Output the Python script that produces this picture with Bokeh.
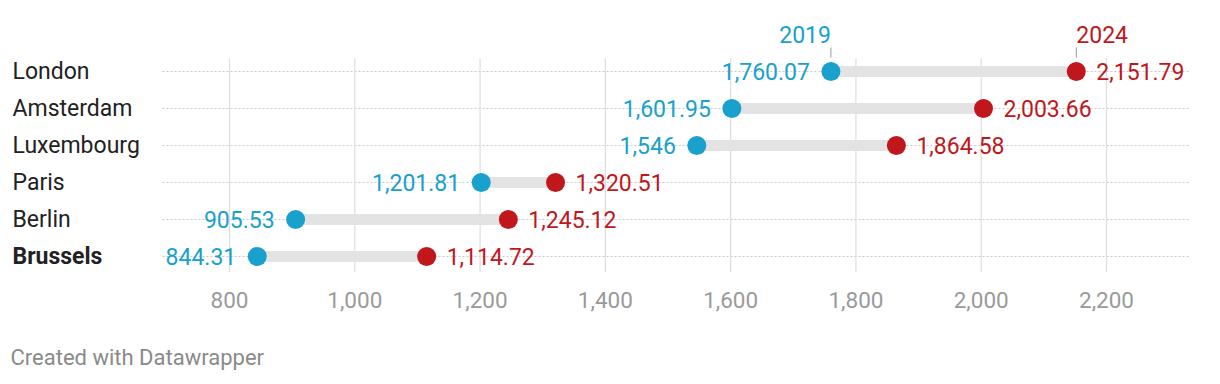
from bokeh.plotting import figure
from bokeh.models import Range1d, ColumnDataSource, LabelSet, Title, FixedTicker, NumeralTickFormatter
from bokeh.embed import file_html
from bokeh.resources import INLINE
from bokeh.core.properties import value

cities = ["London", "Amsterdam", "Luxembourg", "Paris", "Berlin", "Brussels"]
v2019 = [1760.07, 1601.95, 1546.00, 1201.81, 905.53, 844.31]
v2024 = [2151.79, 2003.66, 1864.58, 1320.51, 1245.12, 1114.72]
series = ["2019", "2024"]
x_ticks = [800, 1000, 1200, 1400, 1600, 1800, 2000, 2200]

BLUE = "#18a1cd"
RED = "#c0171c"
FONT = "Roboto"

def fmt(v):
    s = f"{v:,.2f}"
    if s.endswith(".00"):
        s = s[:-3]
    return s

rows = list(range(len(cities) - 1, -1, -1))  # London on top

W, H = 1220, 384
MB = 112
frame_h = H - MB               # 272 px
ROW_PX = 37.0
PX = 1 / ROW_PX
y_start = -16 * PX
y_end = y_start + frame_h * PX

# horizontal scale: 800 -> 229 px, 2200 -> 1106 px
S = (1106 - 229) / (2200 - 800)
x_start = 800 - 229 / S
x_end = x_start + W / S
def xs(px):
    return x_start + px / S

p = figure(frame_width=W, frame_height=frame_h, output_backend="svg", toolbar_location=None,
           x_range=Range1d(x_start, x_end), y_range=Range1d(y_start, y_end),
           y_axis_location=None,
           min_border_left=0, min_border_right=0, min_border_top=0, min_border_bottom=MB)
p.outline_line_color = None
p.background_fill_color = "white"
p.border_fill_color = "white"

# x axis
p.xaxis.ticker = FixedTicker(ticks=x_ticks)
p.xaxis.formatter = NumeralTickFormatter(format="0,0")
p.xaxis.axis_line_color = None
p.xaxis.major_tick_line_color = None
p.xaxis.minor_tick_line_color = None
p.xaxis.major_tick_in = 0
p.xaxis.major_tick_out = 0
p.xaxis.major_label_standoff = 19
p.xaxis.major_label_text_font = FONT
p.xaxis.major_label_text_font_size = "22.5px"
p.xaxis.major_label_text_color = "#9a9a9a"

p.xgrid.grid_line_color = None
p.ygrid.grid_line_color = None

# dotted row guides
n = len(rows)
p.segment(x0=[xs(162)] * n, x1=[xs(1188)] * n, y0=rows, y1=rows,
          line_color="#c8c8c8", line_width=1, line_dash="2 2")

# vertical grid lines
grid_top = rows[0] + 13 * PX
p.segment(x0=x_ticks, x1=x_ticks, y0=[y_start] * len(x_ticks), y1=[grid_top] * len(x_ticks),
          line_color="#dddddd", line_width=1.2)

src = ColumnDataSource(dict(city=cities, y=rows, a=v2019, b=v2024,
                            la=[fmt(v) for v in v2019], lb=[fmt(v) for v in v2024],
                            style=["bold" if c == "Brussels" else "normal" for c in cities]))

p.segment(x0="a", x1="b", y0="y", y1="y", source=src, line_color="#e3e3e3", line_width=11)
p.scatter(x="a", y="y", source=src, size=19, fill_color=BLUE, line_color=None)
p.scatter(x="b", y="y", source=src, size=19, fill_color=RED, line_color=None)

p.add_layout(LabelSet(x="a", y="y", text="la", source=src, x_offset=-21, text_align="right",
                      text_baseline="middle", text_color=BLUE, text_font=value(FONT),
                      text_font_size="23px"))
p.add_layout(LabelSet(x="b", y="y", text="lb", source=src, x_offset=20, text_align="left",
                      text_baseline="middle", text_color=RED, text_font=value(FONT),
                      text_font_size="23px"))

# series key above the top row
top = rows[0]
p.segment(x0=[v2019[0], v2024[0]], x1=[v2019[0], v2024[0]],
          y0=[top + 14 * PX] * 2, y1=[top + 24 * PX] * 2, line_color="#999999", line_width=1)
p.text(x=[v2019[0]], y=[top + 37 * PX], text=[series[0]], text_align="right",
       text_baseline="middle", text_color=BLUE, text_font=value(FONT), text_font_size="23px")
p.text(x=[v2024[0]], y=[top + 37 * PX], text=[series[1]], text_align="left",
       text_baseline="middle", text_color=RED, text_font=value(FONT), text_font_size="23px")

# city names
p.text(x=xs(12), y="y", text="city", source=src, text_align="left",
       text_baseline="middle", text_color="#222222", text_font=value(FONT),
       text_font_size="23px", text_font_style="style")

p.add_layout(Title(text="Created with Datawrapper", align="left", offset=10,
                   text_font=FONT, text_font_size="22px", text_font_style="normal",
                   text_color="#8a8a8a", standoff=64), "below")

open("out.html", "w").write(file_html(p, INLINE))
